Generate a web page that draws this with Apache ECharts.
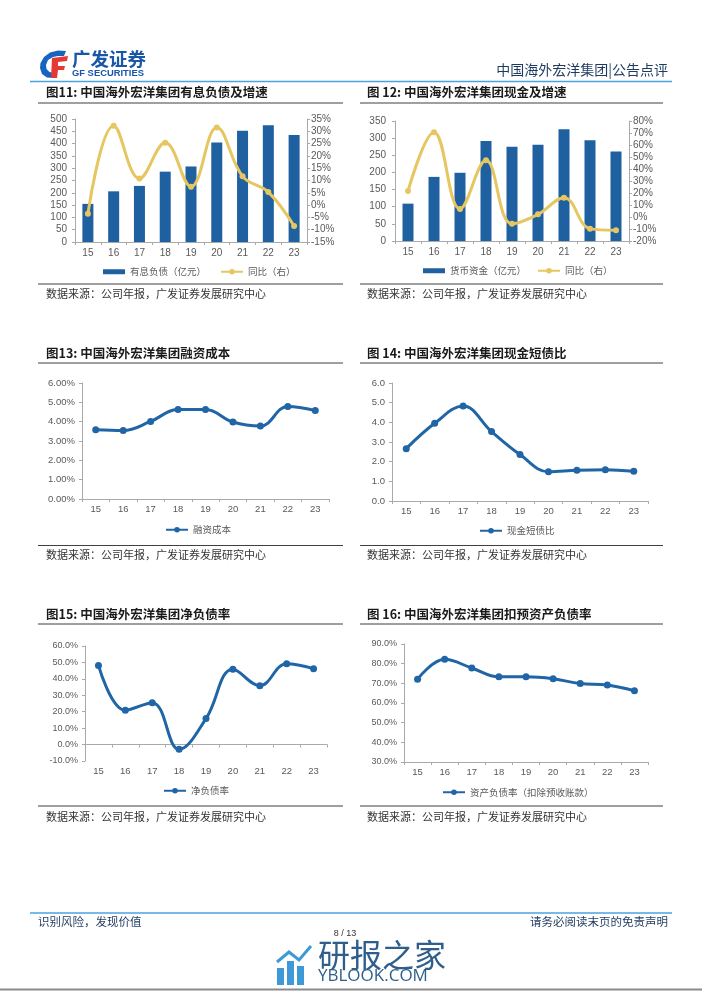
<!DOCTYPE html>
<html>
<head>
<meta charset="utf-8">
<script src="https://cdn.jsdelivr.net/npm/echarts@6/dist/echarts.min.js"></script>
<style>
html,body{margin:0;padding:0;background:#fff;}
#page{width:702px;height:991px;}
</style>
</head>
<body>
<div id="page"></div>
<script>
// ---------- data ----------
const categories = ['15','16','17','18','19','20','21','22','23'];
const debt        = [155, 206, 228, 286, 307, 404, 452, 475, 435];      // 有息负债（亿元）
const debtYoY     = [-3.5, 32.3, 10.8, 25.3, 7.5, 31.5, 11.7, 5.3, -8.5]; // 同比（右） %
const cash        = [109, 187, 199, 292, 275, 281, 326, 294, 261];      // 货币资金（亿元）
const cashYoY     = [21.7, 70.6, 6.7, 47.2, -5.6, 2.2, 16.1, -9.7, -11.1]; // 同比（右） %
const finCost     = [3.58, 3.54, 4.01, 4.63, 4.63, 3.98, 3.77, 4.79, 4.58]; // 融资成本 %
const cashShortDebt = [2.66, 3.95, 4.83, 3.53, 2.36, 1.49, 1.56, 1.59, 1.51]; // 现金短债比
const netGearing  = [48.2, 20.9, 25.5, -2.9, 15.8, 45.8, 35.8, 49.2, 46.2]; // 净负债率 %
const adjLiab     = [72.1, 82.2, 77.8, 73.3, 73.3, 72.3, 69.9, 69.2, 66.2]; // 资产负债率（扣除预收账款）%

const titles = [
  '图11: 中国海外宏洋集团有息负债及增速',
  '图 12: 中国海外宏洋集团现金及增速',
  '图13: 中国海外宏洋集团融资成本',
  '图 14: 中国海外宏洋集团现金短债比',
  '图15: 中国海外宏洋集团净负债率',
  '图 16: 中国海外宏洋集团扣预资产负债率'
];
const sourceText = '数据来源：公司年报，广发证券发展研究中心';
const headerRight = '中国海外宏洋集团|公告点评';

// ---------- styles ----------
const NUMFONT = '"Liberation Sans", Arial, sans-serif';
const CJK = '"Noto Sans CJK SC", sans-serif';
const AX = '#aaaaaa';
const LAB = '#595959';
const BLUE = '#1F60A0';
const LBLUE = '#2065A5';
const GOLD = '#E6C660';

const chart = echarts.init(document.getElementById('page'), null, {renderer:'canvas', width:702, height:991});

function xAx(gi, fs, margin, extra) {
  return Object.assign({
    type:'category', gridIndex:gi, data:categories, boundaryGap:true,
    axisLine:{show:true, onZero:false, lineStyle:{color:AX, width:1}},
    axisTick:{show:true, length:3, alignWithLabel:false, lineStyle:{color:AX}},
    axisLabel:{color:LAB, fontSize:fs, fontFamily:NUMFONT, margin:margin},
    splitLine:{show:false}
  }, extra||{});
}
function yAx(gi, min, max, interval, fmt, pos, margin, fs) {
  return {
    type:'value', gridIndex:gi, min:min, max:max, interval:interval, position:pos,
    axisLine:{show:true, lineStyle:{color:AX, width:1}},
    axisTick:{show:true, length:3, lineStyle:{color:AX}},
    splitLine:{show:false},
    axisLabel:{formatter:fmt, color:LAB, fontSize:fs, fontFamily:NUMFONT, margin:margin}
  };
}
function lineSeries(name, data, xi, yi, color, size) {
  return {
    type:'line', name:name, data:data, xAxisIndex:xi, yAxisIndex:yi,
    smooth:0.4, symbol:'circle', symbolSize:size, showSymbol:true,
    lineStyle:{color:color, width:3}, itemStyle:{color:color}, z:5
  };
}
function leg(name, left, cy, icon) {
  const o = {
    data:[name], left:left, top:cy-5, padding:0, itemGap:0,
    itemWidth:22, itemHeight: icon==='rect' ? 5 : 7,
    textStyle:{color:LAB, fontSize:9.5, fontFamily:CJK},
    selectedMode:false
  };
  if (icon) o.icon = icon;
  return o;
}

// ---------- graphics: header / titles / rules / footer ----------
const g = [];
function txt(x, y, s, font, fill, align) {
  g.push({type:'text', silent:true, style:{x:x, y:y, text:s, font:font, fill:fill, textAlign:align||'left', textVerticalAlign:'middle'}});
}
function ln(x1, y1, x2, y2, stroke, w) {
  g.push({type:'line', silent:true, shape:{x1:x1,y1:y1,x2:x2,y2:y2}, style:{stroke:stroke, lineWidth:w}});
}
// logo (approximate shapes)
g.push({type:'polygon', silent:true, shape:{points:[[66,51],[58,50.5],[50,52.5],[44,57],[40.5,63],[40,68],[42,74],[47,77.5],[54,78],[54,73],[49.5,72],[46.5,69],[46,65],[48,60],[53,57],[58,56],[64,56]]}, style:{fill:'#1565C0'}});
g.push({type:'polygon', silent:true, shape:{points:[[52,58],[68,56],[67,61],[58,62],[58,66],[65,66],[64,70],[58,70],[57,78],[51,78]]}, style:{fill:'#E53935'}});
txt(72, 59, '广发证券', 'bold 18.5px ' + CJK, '#1A56A8');
txt(72, 73.5, 'GF SECURITIES', 'bold 9.4px ' + NUMFONT, '#1A56A8');
txt(668, 70, headerRight, '14px ' + CJK, '#1F3A5F', 'right');
ln(30, 81.5, 672, 81.5, '#4AA3DF', 1.5);

// titles & rules
const colX = [46, 367];
const ruleX = [[38, 343], [360, 663]];
const titleY = [92.5, 353, 614];
const titleRuleY = [103, 363, 624];
const srcRuleY = [284, 545.5, 806];
const srcY = [294, 555, 816.5];
for (let r = 0; r < 3; r++) {
  for (let c = 0; c < 2; c++) {
    txt(colX[c], titleY[r], titles[r*2+c], 'bold 12.5px ' + CJK, '#1a1a1a');
    ln(ruleX[c][0], titleRuleY[r], ruleX[c][1], titleRuleY[r], '#404040', 1.2);
    ln(ruleX[c][0], srcRuleY[r], ruleX[c][1], srcRuleY[r], '#404040', 1.2);
    txt(colX[c], srcY[r], sourceText, '11px ' + CJK, '#333333');
  }
}

// footer
ln(30, 913, 672, 913, '#4AA3DF', 1.5);
txt(38, 922, '识别风险，发现价值', '11.5px ' + CJK, '#1F3A5F');
txt(668, 922, '请务必阅读末页的免责声明', '11.5px ' + CJK, '#1F3A5F', 'right');
txt(345, 934, '8 / 13', '9px ' + NUMFONT, '#333333', 'center');
// watermark
g.push({type:'rect', silent:true, shape:{x:277,y:968,width:7,height:17}, style:{fill:'#3D9AD6'}});
g.push({type:'rect', silent:true, shape:{x:287,y:961,width:7,height:24}, style:{fill:'#3D9AD6'}});
g.push({type:'rect', silent:true, shape:{x:297,y:966,width:7,height:19}, style:{fill:'#3D9AD6'}});
g.push({type:'polyline', silent:true, shape:{points:[[277,962],[289,952],[299,960],[311,946]]}, style:{stroke:'#3D9AD6', lineWidth:3, fill:null}});
txt(318, 955, '研报之家', '32px ' + CJK, '#2E5F8C');
txt(318, 976, 'YBLOOK.COM', '17px ' + '"Open Sans", sans-serif', '#2E5F8C');
ln(0, 989.5, 702, 989.5, '#8a8a8a', 2);

// ---------- option ----------
const option = {
  animation:false,
  backgroundColor:'#ffffff',
  grid:[
    {left:75,  top:119, width:232, height:123},
    {left:395, top:121, width:234, height:120},
    {left:82,  top:383, width:247, height:116},
    {left:392, top:383, width:256, height:118},
    {left:85,  top:646, width:242, height:115},
    {left:404, top:644, width:244, height:118}
  ],
  xAxis:[
    xAx(0, 10, 6),
    xAx(1, 10, 6),
    xAx(2, 9.5, 5),
    xAx(3, 9.5, 5),
    xAx(4, 9.5, 4, {axisLine:{show:true, onZero:true, lineStyle:{color:AX,width:1}}, axisLabel:{show:false}, position:'bottom'}),
    xAx(4, 9.5, 5, {position:'bottom', axisLine:{show:false}, axisTick:{show:false}}),
    xAx(5, 9.5, 5)
  ],
  yAxis:[
    yAx(0, 0, 500, 50, '{value}', 'left', 8, 10),
    yAx(0, -15, 35, 5, '{value}%', 'right', 4, 10),
    yAx(1, 0, 350, 50, '{value}', 'left', 9, 10),
    yAx(1, -20, 80, 10, '{value}%', 'right', 4, 10),
    yAx(2, 0, 6, 1, v => v.toFixed(2) + '%', 'left', 7, 9.5),
    yAx(3, 0, 6, 1, v => v.toFixed(1), 'left', 7, 9.5),
    yAx(4, -10, 60, 10, v => v.toFixed(1) + '%', 'left', 7, 9),
    yAx(5, 30, 90, 10, v => v.toFixed(1) + '%', 'left', 7, 9)
  ],
  legend:[
    leg('有息负债（亿元）', 103, 272, 'rect'),
    leg('同比（右）', 220, 272),
    leg('货币资金（亿元）', 423, 271, 'rect'),
    leg('同比（右） ', 537, 271),
    leg('融资成本', 165, 530),
    leg('现金短债比', 479, 531),
    leg('净负债率', 163, 791),
    leg('资产负债率（扣除预收账款）', 442, 792.5)
  ],
  series:[
    {type:'bar', name:'有息负债（亿元）', data:debt, xAxisIndex:0, yAxisIndex:0, barWidth:11, itemStyle:{color:BLUE}},
    lineSeries('同比（右）', debtYoY, 0, 1, GOLD, 6),
    {type:'bar', name:'货币资金（亿元）', data:cash, xAxisIndex:1, yAxisIndex:2, barWidth:11, itemStyle:{color:BLUE}},
    lineSeries('同比（右） ', cashYoY, 1, 3, GOLD, 6),
    lineSeries('融资成本', finCost, 2, 4, LBLUE, 7),
    lineSeries('现金短债比', cashShortDebt, 3, 5, LBLUE, 7),
    lineSeries('净负债率', netGearing, 4, 6, LBLUE, 7),
    lineSeries('资产负债率（扣除预收账款）', adjLiab, 6, 7, LBLUE, 7)
  ],
  graphic:{elements:g}
};
chart.setOption(option);
</script>
</body>
</html>
